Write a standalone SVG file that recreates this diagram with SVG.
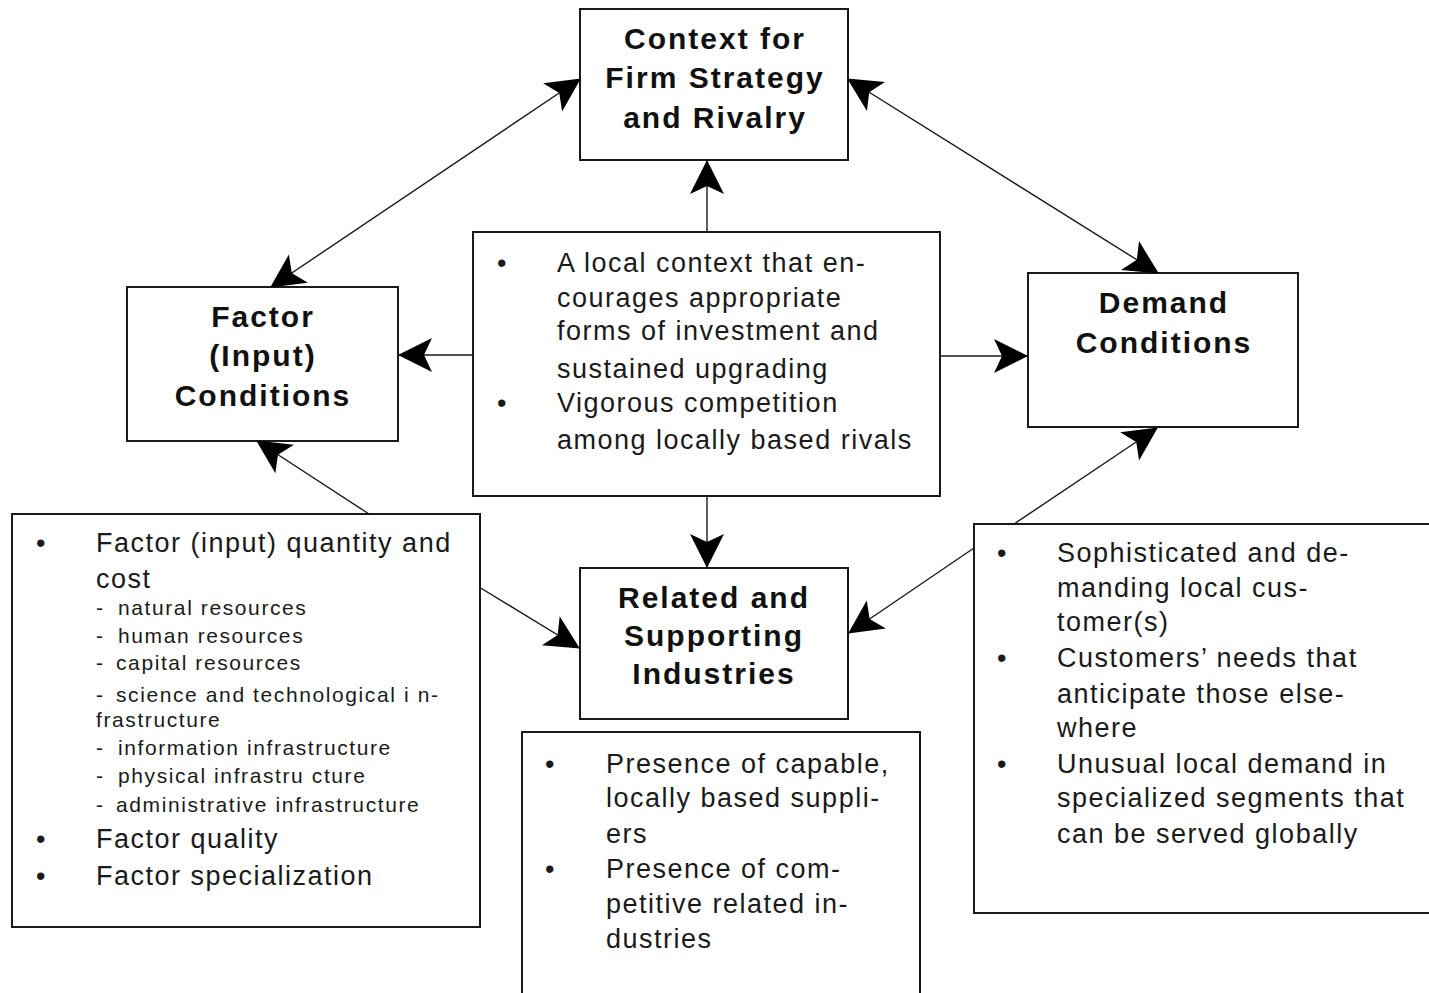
<svg xmlns="http://www.w3.org/2000/svg" width="1429" height="993" viewBox="0 0 1429 993">
<style>
.box{fill:#fff;stroke:#1a1a1a;stroke-width:2}
.title{font-family:"Liberation Sans",Arial,sans-serif;font-weight:bold;font-size:30px;letter-spacing:2px;fill:#111;text-anchor:middle}
.body{font-family:"Liberation Sans",Arial,sans-serif;font-size:27px;letter-spacing:1.5px;fill:#1a1a1a}
.sub{font-family:"Liberation Sans",Arial,sans-serif;font-size:21px;letter-spacing:1.6px;fill:#1a1a1a}
.con{stroke:#1a1a1a;stroke-width:1.4;fill:none}
.dbl{marker-start:url(#ah);marker-end:url(#ah)}
.one{marker-end:url(#ah)}
</style>
<defs>
<marker id="ah" viewBox="-40 -20 44 40" refX="0" refY="0" markerWidth="44" markerHeight="40" markerUnits="userSpaceOnUse" orient="auto-start-reverse" overflow="visible">
<path d="M1,0 L-33,-17 L-25,0 L-33,17 Z" fill="#000"/>
</marker>
</defs>
<rect width="1429" height="993" fill="#fff"/>

<g id="context">
<rect class="box" x="580" y="9" width="268" height="151"/>
<text class="title" x="715" y="49">Context for</text>
<text class="title" x="715" y="88">Firm Strategy</text>
<text class="title" x="715" y="128">and Rivalry</text>
</g>

<g id="factor">
<rect class="box" x="127" y="287" width="271" height="154"/>
<text class="title" x="263" y="327">Factor</text>
<text class="title" x="263" y="366">(Input)</text>
<text class="title" x="263" y="406">Conditions</text>
</g>

<g id="demand">
<rect class="box" x="1028" y="273" width="270" height="154"/>
<text class="title" x="1164" y="313">Demand</text>
<text class="title" x="1164" y="353">Conditions</text>
</g>

<g id="related">
<rect class="box" x="580" y="568" width="268" height="151"/>
<text class="title" x="714" y="608">Related and</text>
<text class="title" x="714" y="646">Supporting</text>
<text class="title" x="714" y="684">Industries</text>
</g>

<g id="strategy-notes">
<rect class="box" x="473" y="232" width="467" height="264"/>
<text class="body" x="497" y="272">•</text>
<text class="body" x="557" y="272">A local context that en-</text>
<text class="body" x="557" y="307">courages appropriate</text>
<text class="body" x="557" y="340">forms of investment and</text>
<text class="body" x="557" y="378">sustained upgrading</text>
<text class="body" x="497" y="412">•</text>
<text class="body" x="557" y="412">Vigorous competition</text>
<text class="body" x="557" y="449">among locally based rivals</text>
</g>

<g id="factor-notes">
<rect class="box" x="12" y="514" width="468" height="413"/>
<text class="body" x="36" y="552">•</text>
<text class="body" x="96" y="552">Factor (input) quantity and</text>
<text class="body" x="96" y="588">cost</text>
<text class="sub" x="96" y="615">-</text><text class="sub" x="118" y="615">natural resources</text>
<text class="sub" x="96" y="643">-</text><text class="sub" x="118" y="643">human resources</text>
<text class="sub" x="96" y="670">-</text><text class="sub" x="116" y="670">capital resources</text>
<text class="sub" x="96" y="702">-</text><text class="sub" x="116" y="702">science and technological i n-</text>
<text class="sub" x="96" y="727">frastructure</text>
<text class="sub" x="96" y="755">-</text><text class="sub" x="118" y="755">information infrastructure</text>
<text class="sub" x="96" y="783">-</text><text class="sub" x="118" y="783">physical infrastru cture</text>
<text class="sub" x="96" y="812">-</text><text class="sub" x="116" y="812">administrative infrastructure</text>
<text class="body" x="36" y="848">•</text>
<text class="body" x="96" y="848">Factor quality</text>
<text class="body" x="36" y="885">•</text>
<text class="body" x="96" y="885">Factor specialization</text>
</g>

<g id="related-notes">
<rect class="box" x="522" y="732" width="398" height="280"/>
<text class="body" x="545" y="773">•</text>
<text class="body" x="606" y="773">Presence of capable,</text>
<text class="body" x="606" y="807">locally based suppli-</text>
<text class="body" x="606" y="843">ers</text>
<text class="body" x="545" y="878">•</text>
<text class="body" x="606" y="878">Presence of com-</text>
<text class="body" x="606" y="913">petitive related in-</text>
<text class="body" x="606" y="948">dustries</text>
</g>

<g id="demand-notes">
<rect class="box" x="974" y="524" width="480" height="389"/>
<text class="body" x="997" y="562">•</text>
<text class="body" x="1057" y="562">Sophisticated and de-</text>
<text class="body" x="1057" y="597">manding local cus-</text>
<text class="body" x="1057" y="631">tomer(s)</text>
<text class="body" x="997" y="667">•</text>
<text class="body" x="1057" y="667">Customers’ needs that</text>
<text class="body" x="1057" y="703">anticipate those else-</text>
<text class="body" x="1057" y="737">where</text>
<text class="body" x="997" y="773">•</text>
<text class="body" x="1057" y="773">Unusual local demand in</text>
<text class="body" x="1057" y="807">specialized segments that</text>
<text class="body" x="1057" y="843">can be served globally</text>
</g>

<g id="connectors">
<line class="con dbl" x1="580" y1="79" x2="271" y2="287"/>
<line class="con dbl" x1="848" y1="79" x2="1158" y2="273"/>
<line class="con one" x1="707" y1="232" x2="707" y2="161"/>
<line class="con one" x1="707" y1="496" x2="707" y2="567"/>
<line class="con one" x1="473" y1="355" x2="399" y2="355"/>
<line class="con one" x1="940" y1="356" x2="1027" y2="356"/>
<line class="con one" x1="369" y1="514" x2="257" y2="441"/>
<line class="con one" x1="479" y1="587" x2="579" y2="648"/>
<line class="con one" x1="1014" y1="524" x2="1157" y2="428"/>
<line class="con one" x1="974" y1="548" x2="849" y2="633"/>
</g>
</svg>
